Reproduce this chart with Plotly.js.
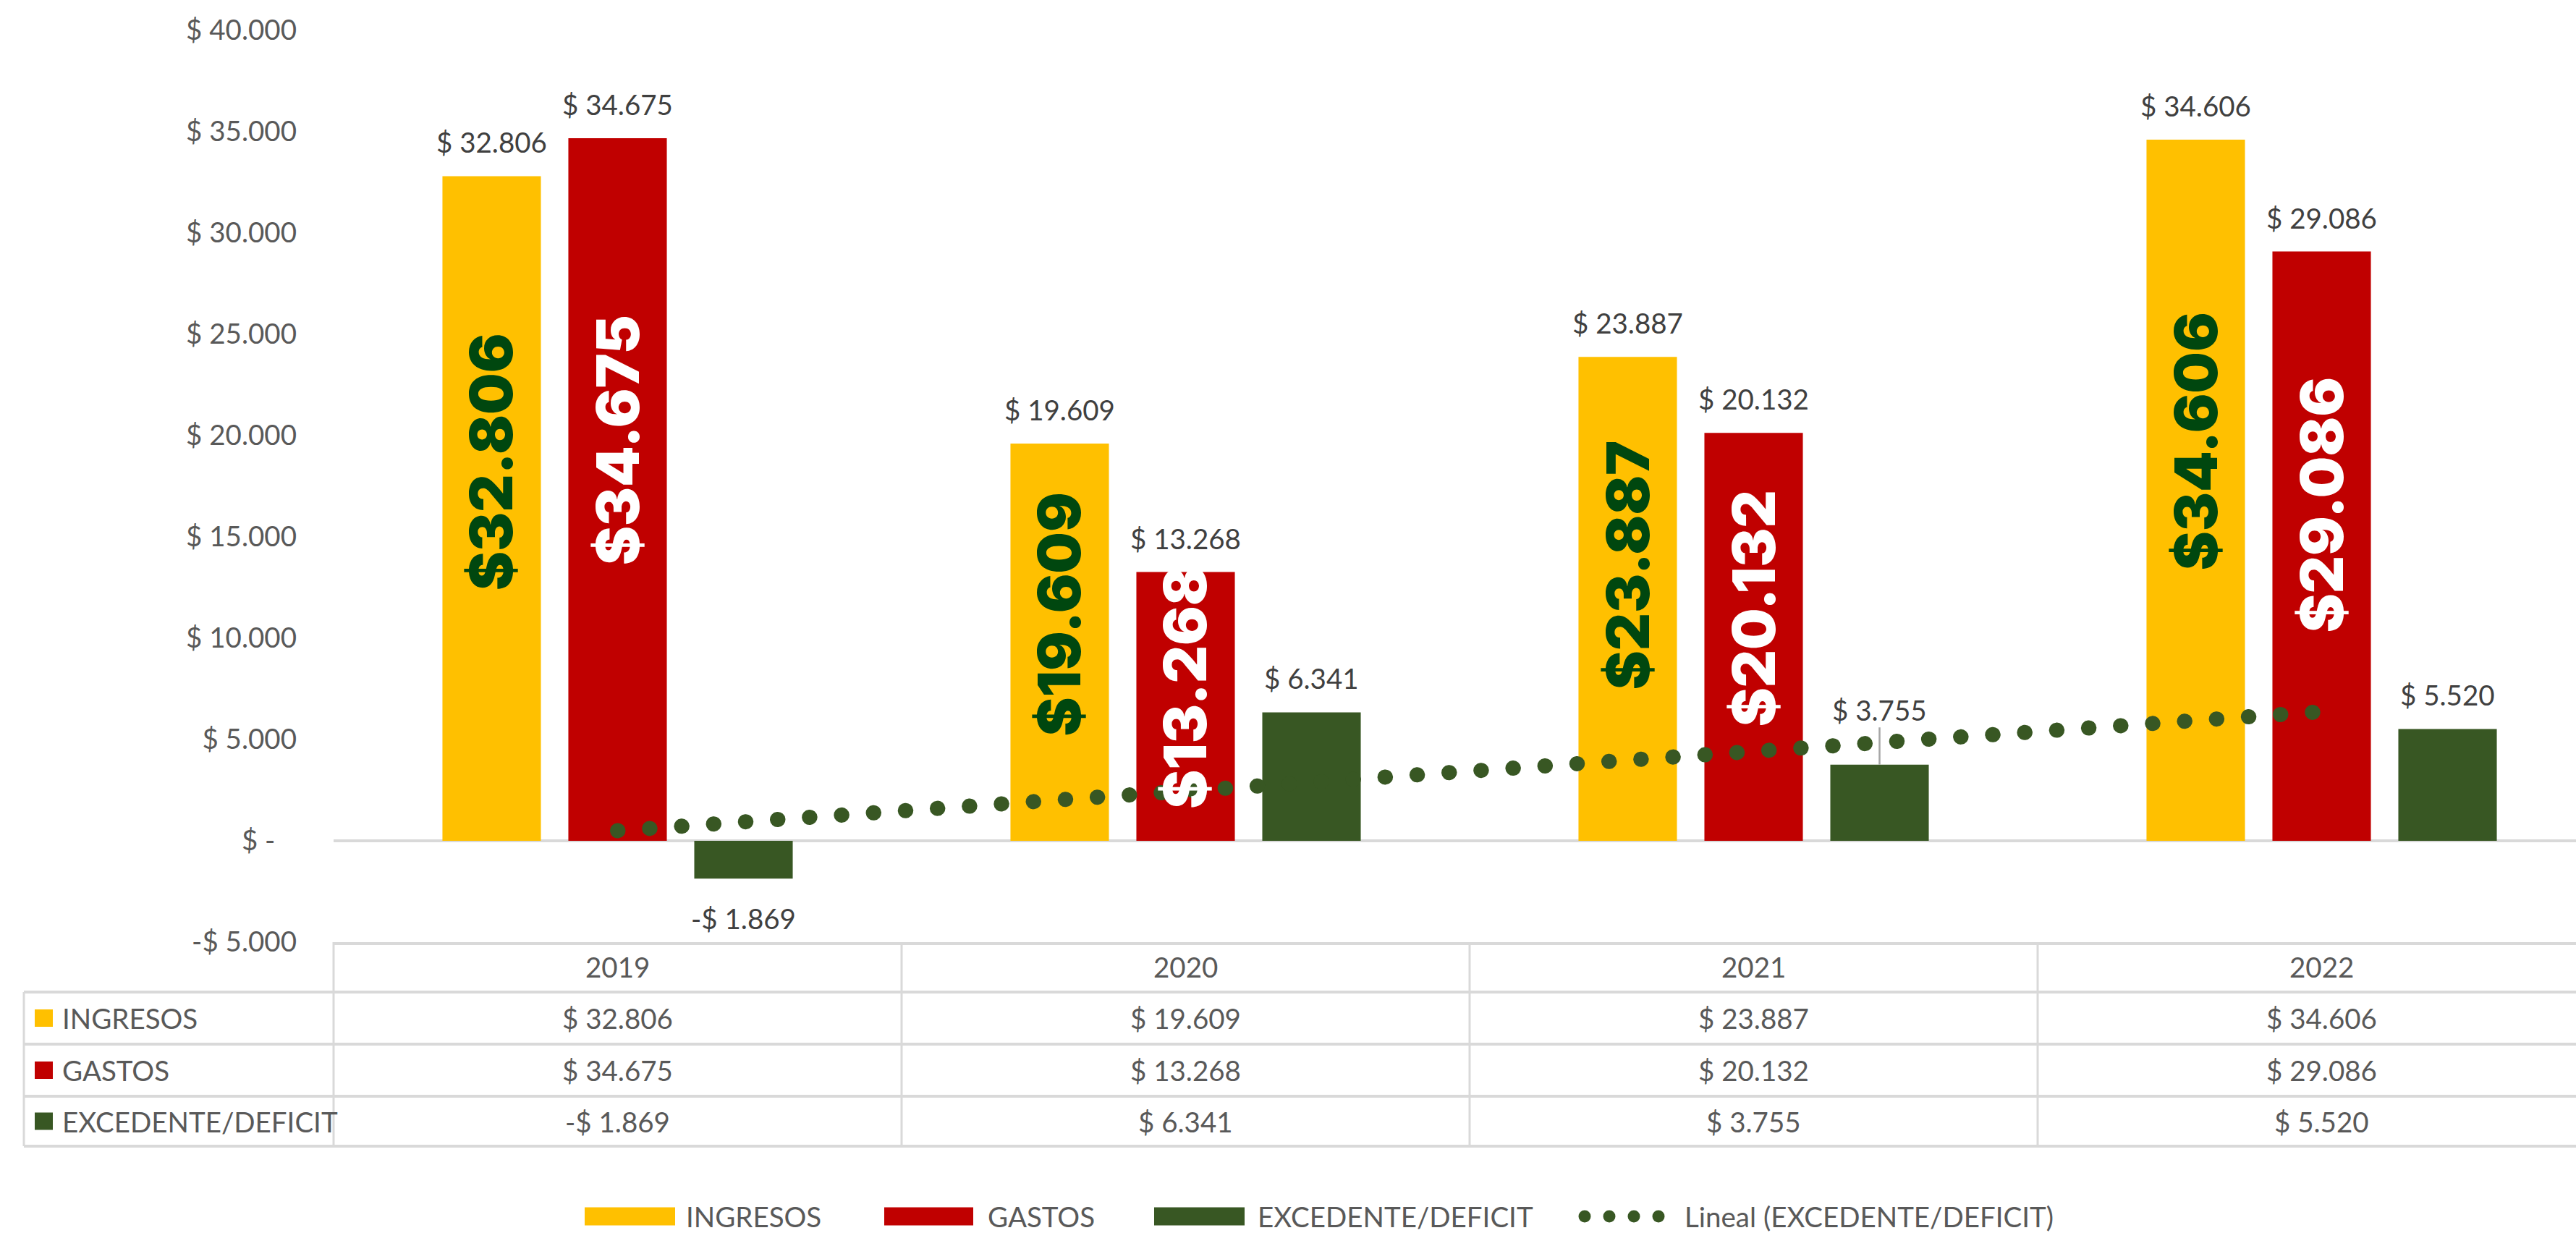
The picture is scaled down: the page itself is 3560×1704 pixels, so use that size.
<!DOCTYPE html>
<html>
<head>
<meta charset="utf-8">
<script src="https://cdn.plot.ly/plotly-3.0.1.min.js"></script>
<style>
  html, body { margin: 0; padding: 0; background: #ffffff; }
  #chart { width: 3560px; height: 1704px; }
</style>
</head>
<body>
<div id="chart"></div>
<script>
// ---------------- DATA ----------------
const years = ['2019', '2020', '2021', '2022'];
const seriesNames = ['INGRESOS', 'GASTOS', 'EXCEDENTE/DEFICIT'];
const ingresos = [32806, 19609, 23887, 34606];
const gastos = [34675, 13268, 20132, 29086];
const excedente = [-1869, 6341, 3755, 5520];
const trendName = 'Lineal (EXCEDENTE/DEFICIT)';
const yTickVals = [-5000, 0, 5000, 10000, 15000, 20000, 25000, 30000, 35000, 40000];

// ---------------- STYLE / GEOMETRY ----------------
const W = 3560, H = 1704;
const M = { l: 461, r: 0, t: 42, b: 402 };
const plotW = W - M.l - M.r, plotH = H - M.t - M.b;
const plotBottomPx = H - M.b;
const catPx = 785;                       // width of one category in px
const xRange = [-0.5, -0.5 + plotW / catPx];
const yRange = [-5000, 40000];
const BARGAP = 0.335, BARGROUPGAP = 0.218;
const COLORS = ['#FFC000', '#C00000', '#385723'];
const INNER_COLORS = ['#00470F', '#FFFFFF', null];
const TXT = '#595959', LBL = '#404040', GRID = '#D9D9D9';
const FONT = 'Lato, Carlito, "Open Sans", sans-serif';
const BIGFONT = 'Inter, Lato, "Open Sans", sans-serif';
const FS = 38.5;
const INNER_RATIO = 0.57;   // vertical placement of the big in-bar labels (fraction of bar height)

const series = [ingresos, gastos, excedente];

function money(v, space) {
  if (v === 0) return '$ -';
  const s = Math.abs(Math.round(v)).toString().replace(/\B(?=(\d{3})+(?!\d))/g, '.');
  return (v < 0 ? '-' : '') + '$' + (space ? ' ' : '') + s;
}
const pxX = px => (px - M.l) / plotW;          // pixel -> paper x
const pxY = py => (plotBottomPx - py) / plotH; // pixel -> paper y
const catX = c => (c - xRange[0]) / (xRange[1] - xRange[0]);

// bar offsets within a group
const slot = (1 - BARGAP) / series.length;
const offsets = series.map((_, j) => (j - (series.length - 1) / 2) * slot);

// ---------------- TRACES ----------------
const traces = series.map((vals, j) => ({
  type: 'bar',
  name: seriesNames[j],
  x: years,
  y: vals,
  marker: { color: COLORS[j] },
  showlegend: false,
  hoverinfo: 'skip'
}));

// linear trend line (least squares on EXCEDENTE/DEFICIT)
const n = excedente.length;
const xs = excedente.map((_, i) => i + 1);
const mx = xs.reduce((a, b) => a + b, 0) / n;
const my = excedente.reduce((a, b) => a + b, 0) / n;
let sxy = 0, sxx = 0;
xs.forEach((x, i) => { sxy += (x - mx) * (excedente[i] - my); sxx += (x - mx) * (x - mx); });
const slope = sxy / sxx, intercept = my - slope * mx;
traces.push({
  type: 'scatter',
  mode: 'lines',
  name: trendName,
  x: years,
  y: xs.map(x => intercept + slope * x),
  line: { color: COLORS[2], width: 21, dash: '0.5px,43.8px' },
  showlegend: false,
  hoverinfo: 'skip'
});

// ---------------- ANNOTATIONS ----------------
const ann = [];
// value labels above / below bars
const leader = { '2|2': 76 }; // series|category -> label raised with leader line (px)
series.forEach((vals, j) => {
  vals.forEach((v, i) => {
    const key = j + '|' + i;
    const base = {
      xref: 'x', yref: 'y', x: i + offsets[j], y: v,
      text: money(v, true),
      font: { family: FONT, size: FS, color: LBL }
    };
    if (leader[key]) {
      ann.push(Object.assign(base, {
        showarrow: true, arrowhead: 0, arrowwidth: 2.5, arrowcolor: '#A6A6A6',
        ax: 0, ay: -leader[key], standoff: 0
      }));
    } else {
      ann.push(Object.assign(base, {
        showarrow: false, xanchor: 'center', yanchor: 'middle',
        yshift: v >= 0 ? 47 : -55
      }));
    }
  });
});
// big rotated labels inside bars
series.forEach((vals, j) => {
  if (!INNER_COLORS[j]) return;
  vals.forEach((v, i) => {
    ann.push({
      xref: 'x', yref: 'y', x: i + offsets[j], y: INNER_RATIO * v,
      text: money(v, false), textangle: -90, showarrow: false,
      xanchor: 'center', yanchor: 'middle',
      font: { family: BIGFONT, size: 81, color: INNER_COLORS[j], weight: 900 }
    });
  });
});

// ---------------- DATA TABLE ----------------
const tableLeftPx = 33;
const rowEdgesPx = [1302, 1371, 1443, 1515, 1584]; // header top, header bottom, row bottoms
const shapes = [];
rowEdgesPx.slice(1).forEach(py => {
  shapes.push({ type: 'line', xref: 'paper', yref: 'paper',
    x0: pxX(tableLeftPx), x1: 1, y0: pxY(py), y1: pxY(py),
    line: { color: GRID, width: 4 } });
});
shapes.push({ type: 'line', xref: 'paper', yref: 'paper',
  x0: pxX(tableLeftPx), x1: pxX(tableLeftPx), y0: pxY(rowEdgesPx[1]), y1: pxY(rowEdgesPx[4]),
  line: { color: GRID, width: 3 } });
for (let c = -0.5; c < xRange[1]; c += 1) {
  shapes.push({ type: 'line', xref: 'paper', yref: 'paper',
    x0: catX(c), x1: catX(c), y0: pxY(rowEdgesPx[0]), y1: pxY(rowEdgesPx[4]),
    line: { color: GRID, width: 3 } });
}
const hdrY = pxY((rowEdgesPx[0] + rowEdgesPx[1]) / 2);
years.forEach((yr, i) => {
  ann.push({ xref: 'x', yref: 'paper', x: i, y: hdrY, text: yr, showarrow: false,
    xanchor: 'center', yanchor: 'middle', font: { family: FONT, size: FS, color: TXT } });
});
series.forEach((vals, j) => {
  const cy = (rowEdgesPx[j + 1] + rowEdgesPx[j + 2]) / 2;
  shapes.push({ type: 'rect', xref: 'paper', yref: 'paper',
    x0: pxX(48), x1: pxX(73), y0: pxY(cy - 12), y1: pxY(cy + 12),
    fillcolor: COLORS[j], line: { width: 0 } });
  ann.push({ xref: 'paper', yref: 'paper', x: pxX(84), y: pxY(cy), text: seriesNames[j],
    showarrow: false, xanchor: 'left', yanchor: 'middle',
    font: { family: FONT, size: FS, color: TXT } });
  vals.forEach((v, i) => {
    ann.push({ xref: 'x', yref: 'paper', x: i, y: pxY(cy), text: money(v, true),
      showarrow: false, xanchor: 'center', yanchor: 'middle',
      font: { family: FONT, size: FS, color: TXT } });
  });
});

// ---------------- LEGEND (bottom) ----------------
const legCy = 1681;
const legItems = [
  { key: [808, 933], text: 946 },
  { key: [1222, 1345], text: 1363 },
  { key: [1595, 1720], text: 1736 }
];
legItems.forEach((it, j) => {
  shapes.push({ type: 'rect', xref: 'paper', yref: 'paper',
    x0: pxX(it.key[0]), x1: pxX(it.key[1]), y0: pxY(legCy - 12.5), y1: pxY(legCy + 12.5),
    fillcolor: COLORS[j], line: { width: 0 } });
  ann.push({ xref: 'paper', yref: 'paper', x: pxX(it.text), y: pxY(legCy), text: seriesNames[j],
    showarrow: false, xanchor: 'left', yanchor: 'middle',
    font: { family: FONT, size: FS, color: TXT } });
});
[2190, 2224, 2258, 2292].forEach(cx => {
  shapes.push({ type: 'circle', xref: 'paper', yref: 'paper',
    x0: pxX(cx - 8.5), x1: pxX(cx + 8.5), y0: pxY(legCy - 8.5), y1: pxY(legCy + 8.5),
    fillcolor: COLORS[2], line: { width: 0 } });
});
ann.push({ xref: 'paper', yref: 'paper', x: pxX(2326), y: pxY(legCy), text: trendName,
  showarrow: false, xanchor: 'left', yanchor: 'middle',
  font: { family: FONT, size: FS, color: TXT } });

// ---------------- LAYOUT ----------------
const layout = {
  width: W, height: H, autosize: false,
  margin: M,
  paper_bgcolor: '#ffffff', plot_bgcolor: '#ffffff',
  barmode: 'group', bargap: BARGAP, bargroupgap: BARGROUPGAP,
  showlegend: false,
  font: { family: FONT, color: TXT, size: FS },
  xaxis: {
    type: 'category', range: xRange, fixedrange: true,
    showticklabels: false, ticks: '', showgrid: false, zeroline: false,
    showline: true, linecolor: GRID, linewidth: 4
  },
  yaxis: {
    range: yRange, tickvals: yTickVals,
    ticktext: yTickVals.map(v => v === 0 ? money(v, true) + '\u00A0\u00A0\u00A0' : money(v, true)),
    tickfont: { family: FONT, size: FS, color: TXT },
    ticks: '', ticklabelstandoff: 50,
    showgrid: false, zeroline: true, zerolinecolor: GRID, zerolinewidth: 4,
    showline: false, fixedrange: true
  },
  shapes: shapes,
  annotations: ann
};

function roundDots() {
  document.querySelectorAll('#chart .scatterlayer .js-line').forEach(p => {
    p.style.strokeLinecap = 'round';
  });
}
Plotly.newPlot('chart', traces, layout, { staticPlot: true, displayModeBar: false })
  .then(gd => { roundDots(); gd.on && gd.on('plotly_afterplot', roundDots); });
</script>
</body>
</html>
